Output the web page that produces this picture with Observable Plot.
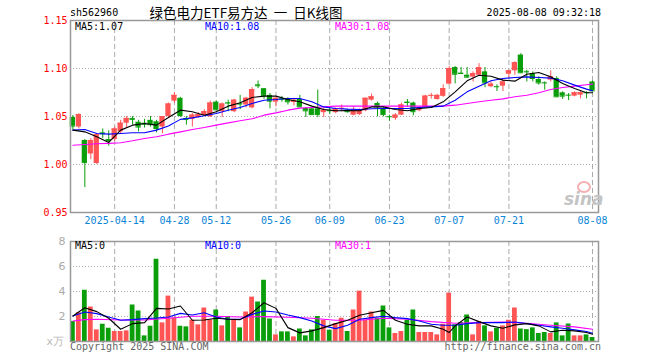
<!DOCTYPE html>
<html><head><meta charset="utf-8">
<script src="https://cdn.jsdelivr.net/npm/d3@7"></script>
<script src="https://cdn.jsdelivr.net/npm/@observablehq/plot@0.6"></script>
<style>
body{margin:0;background:#fff;}
#wrap{position:relative;width:660px;height:360px;overflow:hidden;font-family:"DejaVu Sans Mono",monospace;}
.t{position:absolute;white-space:nowrap;font-size:10px;line-height:12px;transform:translateY(-50%);}
.abs{position:absolute;left:0;}
</style></head><body><div id="wrap"></div>
<script>
// ---- data ----
const tickIdx = [7,17,24,34,43,53,63,73,87];
const tickLabels = ["2025-04-14","04-28","05-12","05-26","06-09","06-23","07-07","07-21","08-08"];
const priceTicks = [0.95,1.00,1.05,1.10,1.15];
const volTicks = [2,4,6,8];

const open = [1.049,1.039,1.025,1.011,1.001,1.033,1.026,1.026,1.034,1.043,
1.048,1.044,1.043,1.046,1.0445,1.039,1.050,1.066,1.069,1.048,
1.047,1.049,1.051,1.0497,1.065,1.055,1.0645,1.055,1.0635,1.062,
1.059,1.083,1.079,1.072,1.065,1.0685,1.0677,1.0646,1.0677,1.0584,
1.058,1.058,1.054,1.0565,1.054,1.058,1.0566,1.0514,1.052,1.056,
1.067,1.0635,1.058,1.050,1.048,1.0514,1.065,1.064,1.056,1.0594,
1.0715,1.0677,1.071,1.0837,1.101,1.0952,1.093,1.091,1.093,1.0965,
1.081,1.0812,1.0816,1.094,1.0976,1.114,1.097,1.0948,1.0886,1.0852,
1.0879,1.0896,1.0747,1.0723,1.0712,1.0722,1.0748,1.086];
const close = [1.040,1.052,1.002,1.025,1.031,1.032,1.025,1.037,1.043,1.048,
1.047,1.039,1.042,1.0415,1.0375,1.050,1.063,1.072,1.051,1.047,
1.0514,1.052,1.055,1.064,1.057,1.063,1.064,1.067,1.063,1.069,
1.078,1.082,1.072,1.066,1.069,1.068,1.0653,1.067,1.060,1.0559,
1.052,1.052,1.0566,1.056,1.058,1.0585,1.055,1.0566,1.057,1.069,
1.0705,1.060,1.052,1.0497,1.0514,1.062,1.0646,1.055,1.0594,1.0712,
1.072,1.072,1.079,1.100,1.094,1.0948,1.091,1.0948,1.101,1.085,
1.0837,1.081,1.086,1.0976,1.106,1.0955,1.0965,1.0896,1.085,1.085,
1.0913,1.0705,1.0712,1.0722,1.0747,1.0747,1.0747,1.0767];
const high = [1.051,1.053,1.026,1.027,1.032,1.037,1.035,1.039,1.046,1.050,
1.050,1.046,1.047,1.050,1.046,1.050,1.064,1.075,1.070,1.050,
1.053,1.054,1.057,1.066,1.066,1.064,1.067,1.068,1.072,1.070,
1.080,1.087,1.079,1.074,1.070,1.071,1.0695,1.069,1.072,1.0594,
1.0594,1.0775,1.0584,1.0584,1.059,1.062,1.0575,1.060,1.058,1.069,
1.0733,1.065,1.059,1.0514,1.053,1.064,1.0677,1.065,1.060,1.0722,
1.074,1.073,1.083,1.102,1.102,1.101,1.101,1.0965,1.105,1.101,
1.086,1.083,1.088,1.0983,1.107,1.1155,1.098,1.0965,1.0913,1.086,
1.0976,1.0913,1.0757,1.074,1.0757,1.0768,1.0757,1.087];
const low = [1.036,1.037,0.976,1.005,1.000,1.027,1.019,1.024,1.032,1.038,
1.041,1.034,1.038,1.039,1.033,1.032,1.049,1.064,1.049,1.041,
1.039,1.048,1.050,1.049,1.056,1.049,1.055,1.054,1.057,1.059,
1.058,1.079,1.068,1.058,1.060,1.065,1.062,1.061,1.059,1.049,
1.051,1.049,1.049,1.052,1.053,1.055,1.0535,1.0507,1.051,1.055,
1.066,1.0497,1.0497,1.045,1.046,1.051,1.0594,1.0507,1.055,1.0594,
1.068,1.067,1.070,1.083,1.084,1.0937,1.0896,1.086,1.092,1.080,
1.080,1.076,1.076,1.090,1.093,1.0948,1.086,1.086,1.0826,1.0774,
1.086,1.070,1.0677,1.0666,1.0705,1.0684,1.0684,1.0757];
const volume = [1.6,2.3,4.1,2.76,0.93,1.38,1.06,0.8,0.8,0.85,
2.92,2.44,0.45,1.22,6.58,1.49,3.63,1.88,1.22,1.17,
1.7,1.33,2.68,1.72,2.52,1.25,2.0,1.78,1.09,2.36,
3.55,3.16,4.9,1.8,0.53,0.77,0.77,0.37,1.0,0.45,
0.93,2.0,1.7,0.9,1.43,1.86,0.8,2.52,4.03,1.7,
2.36,1.86,2.84,1.09,0.64,0.8,1.7,2.52,0.72,0.72,
0.72,0.53,1.38,3.87,1.33,1.51,2.12,0.53,1.59,1.25,
0.77,1.06,1.25,1.7,2.68,1.0,0.95,1.09,0.64,0.72,
0.64,1.49,0.45,1.4,0.45,0.45,0.53,0.32];

const maIdx = [0,2,4,6,8,10,12,14,16,18,20,22,24,26,28,30,32,34,36,38,40,42,44,46,48,50,52,54,56,58,60,62,64,66,68,70,72,74,76,78,80,82,84,86,87];
const ma5 = [1.0358,1.034,1.029,1.023,1.0358,1.041,1.0427,1.041,1.049,1.0566,1.0549,1.0514,1.0549,1.0608,1.0643,1.0698,
1.0712,1.0712,1.0677,1.0653,1.0608,1.0573,1.056,1.0563,1.056,1.060,1.060,1.0573,1.056,1.0584,
1.0594,1.0653,1.0757,1.0872,1.093,1.092,1.0879,1.0868,1.094,1.0958,1.0913,1.0844,1.0792,1.0747,1.0747];
const ma10 = [1.0358,1.0365,1.0323,1.0316,1.0323,1.033,1.033,1.0358,1.040,1.047,1.0486,1.0507,1.0532,1.0566,1.0594,1.0636,
1.067,1.0677,1.0688,1.0688,1.0653,1.060,1.0584,1.0577,1.0573,1.058,1.0584,1.0584,1.0584,1.0594,
1.060,1.0608,1.067,1.0757,1.0816,1.0872,1.0896,1.0906,1.0913,1.0906,1.090,1.0872,1.0827,1.0785,1.0768];
const ma30 = [1.020,1.0209,1.0216,1.022,1.0226,1.0247,1.0271,1.0289,1.0316,1.034,1.0365,1.0386,1.041,1.0434,1.0455,1.0476,
1.0514,1.0538,1.0566,1.0587,1.0594,1.060,1.0608,1.0608,1.0608,1.0608,1.0608,1.0608,1.0608,1.0608,
1.0608,1.0608,1.0618,1.0636,1.0653,1.067,1.0684,1.0705,1.0722,1.0747,1.0782,1.0802,1.0816,1.083,1.0837];

const vma5Idx = [0,2,4,6,8,10,12,14,16,18,20,22,24,26,28,30,32,34,36,38,40,42,44,46,48,50,52,54,56,58,60,62,63,64,66,68,70,72,74,76,78,80,82,84,86,87];
const vma5 = [2.04,2.7,2.39,1.86,0.98,1.43,1.51,2.65,2.6,2.84,1.7,1.72,1.86,1.78,1.75,2.3,3.1,2.65,1.11,0.69,0.85,1.11,1.43,1.7,2.1,2.3,2.49,1.7,1.38,1.25,1.25,0.98,0.72,1.25,1.96,1.59,1.25,1.06,1.33,1.43,1.25,0.77,0.9,0.85,0.72,0.58];
const vma10 = [2.04,2.36,2.23,1.96,1.7,1.75,1.83,1.88,1.96,2.25,2.12,2.3,1.96,1.78,1.78,2.17,
2.44,2.36,2.12,1.91,1.64,1.25,1.03,1.3,1.78,1.91,2.02,1.91,1.83,1.64,
1.38,1.3,1.3,1.43,1.51,1.51,1.51,1.56,1.43,1.3,1.17,1.06,0.93,0.8,0.66];
const vma30Idx = [0,2,4,8,12,16,20,24,28,32,36,40,44,48,52,56,60,64,68,72,76,80,84,87];
const vma30 = [1.64,1.75,1.78,1.72,1.72,1.86,2.02,2.02,1.96,1.99,1.94,1.86,1.7,1.7,1.86,1.78,1.59,1.46,1.51,1.56,1.46,1.3,1.17,0.98];

// ---- build ----
const RED = "#ff5454", GREEN = "#0a9f0a";
const candles = open.map((o, i) => ({i, open: o, close: close[i], high: high[i], low: low[i], vol: volume[i],
  c: close[i] >= o ? RED : GREEN}));
const pts = (idx, vals) => idx.map((x, k) => ({x, y: vals[k]}));
const labelOf = new Map(tickIdx.map((d, k) => [d, tickLabels[k]]));
const FONT = "DejaVu Sans Mono";

const price = Plot.plot({
  width: 660, height: 232, marginLeft: 70, marginRight: 62, marginTop: 20, marginBottom: 20,
  x: {domain: [-0.4, 88], range: [70, 598]}, y: {domain: [0.95, 1.15]}, color: {type: "identity"},
  style: {fontFamily: FONT, fontSize: "10px", background: "transparent", overflow: "visible"},
  marks: [
    Plot.ruleY([1.00, 1.05, 1.10], {stroke: "#aaa", strokeDasharray: "1,2"}),
    Plot.ruleX(tickIdx, {stroke: "#aaa", strokeDasharray: "5,3"}),
    Plot.axisY(priceTicks, {tickFormat: d3.format(".2f"), tickSize: 0, tickPadding: 3, fill: "#ff0000", fontSize: 10}),
    Plot.axisX(tickIdx, {tickFormat: d => labelOf.get(d), tickSize: 0, tickPadding: 4, fill: "#0a84d8", fontSize: 10}),
    Plot.ruleX(candles, {x: "i", y1: "low", y2: "high", stroke: "c"}),
    Plot.rect(candles, {x1: d => d.i - 0.44, x2: d => d.i + 0.44, y1: "open", y2: "close", fill: "c"}),
    Plot.ruleY(candles, {y: "close", x1: d => d.i - 0.44, x2: d => d.i + 0.44, stroke: "c"}),
    Plot.line(pts(maIdx, ma30), {x: "x", y: "y", stroke: "#ff00ff", strokeWidth: 1.1}),
    Plot.line(pts(maIdx, ma10), {x: "x", y: "y", stroke: "#0000ff", strokeWidth: 1.1}),
    Plot.line(pts(maIdx, ma5), {x: "x", y: "y", stroke: "#000000", strokeWidth: 1.1}),
    Plot.frame({stroke: "#999", strokeWidth: 1.5})
  ]
});

const vol = Plot.plot({
  width: 660, height: 130, marginLeft: 70, marginRight: 62, marginTop: 11, marginBottom: 19,
  x: {domain: [-0.4, 88], range: [70, 598], axis: null}, y: {domain: [0, 8], axis: null}, color: {type: "identity"},
  style: {fontFamily: FONT, fontSize: "10px", background: "transparent", overflow: "visible"},
  marks: [
    Plot.ruleY([2, 4, 6], {stroke: "#aaa", strokeDasharray: "1,2"}),
    Plot.ruleX(tickIdx, {stroke: "#aaa", strokeDasharray: "5,3"}),
    Plot.axisY(volTicks, {tickSize: 0, tickPadding: 5, fill: "#aaa", fontSize: 11, fontFamily: "DejaVu Sans"}),
    Plot.rect(candles, {x1: d => d.i - 0.4, x2: d => d.i + 0.4, y1: 0, y2: "vol", fill: "c"}),
    Plot.line(pts(vma30Idx, vma30), {x: "x", y: "y", stroke: "#ff00ff", strokeWidth: 1.1}),
    Plot.line(pts(maIdx, vma10), {x: "x", y: "y", stroke: "#0000ff", strokeWidth: 1.1}),
    Plot.line(pts(vma5Idx, vma5), {x: "x", y: "y", stroke: "#000000", strokeWidth: 1.1}),
    Plot.frame({stroke: "#999", strokeWidth: 1.5})
  ]
});

const wrap = document.getElementById("wrap");
price.classList.add("abs"); price.style.top = "0px";
vol.classList.add("abs"); vol.style.top = "230px";
wrap.appendChild(price); wrap.appendChild(vol);

function txt(s, x, y, opts = {}) {
  const d = document.createElement("div");
  d.className = "t"; d.textContent = s;
  if (opts.right) d.style.right = (660 - x) + "px"; else if (opts.center) { d.style.left = x + "px"; d.style.transform = "translate(-50%,-50%)"; } else d.style.left = x + "px";
  d.style.top = y + "px";
  if (opts.color) d.style.color = opts.color;
  if (opts.size) d.style.fontSize = opts.size + "px";
  if (opts.font) d.style.fontFamily = opts.font;
  if (opts.style) Object.assign(d.style, opts.style);
  wrap.appendChild(d);
}
txt("sh562960", 70, 13);
txt("绿色电力ETF易方达 一 日K线图", 246, 12, {center: true, size: 13.5, font: "'Noto Sans CJK SC'", style: {wordSpacing: "3px"}});
txt("2025-08-08 09:32:18", 601, 13, {right: true});
txt("MA5:1.07", 75, 27, {color: "#000"});
txt("MA10:1.08", 205, 27, {color: "#0000ff"});
txt("MA30:1.08", 335, 27, {color: "#ff00ff"});
txt("MA5:0", 75, 246, {color: "#000"});
txt("MA10:0", 205, 246, {color: "#0000ff"});
txt("MA30:1", 335, 246, {color: "#ff00ff"});
txt("x万", 64, 342, {right: true, color: "#bbb", size: 11, font: "'DejaVu Sans'"});
txt("Copyright 2025 SINA.COM", 70, 347, {color: "#666"});
txt("http://finance.sina.com.cn", 601, 347, {right: true, color: "#666"});
txt("sina", 564, 199, {color: "#c4c4c4", size: 17, font: "'DejaVu Sans'", style: {fontStyle: "italic", fontWeight: "bold"}});
const eye = document.createElement("div");
Object.assign(eye.style, {position: "absolute", left: "577px", top: "181px", width: "10px", height: "8px", border: "2px solid #f4b0b0", borderRadius: "50%"});
wrap.appendChild(eye);
</script></body></html>
